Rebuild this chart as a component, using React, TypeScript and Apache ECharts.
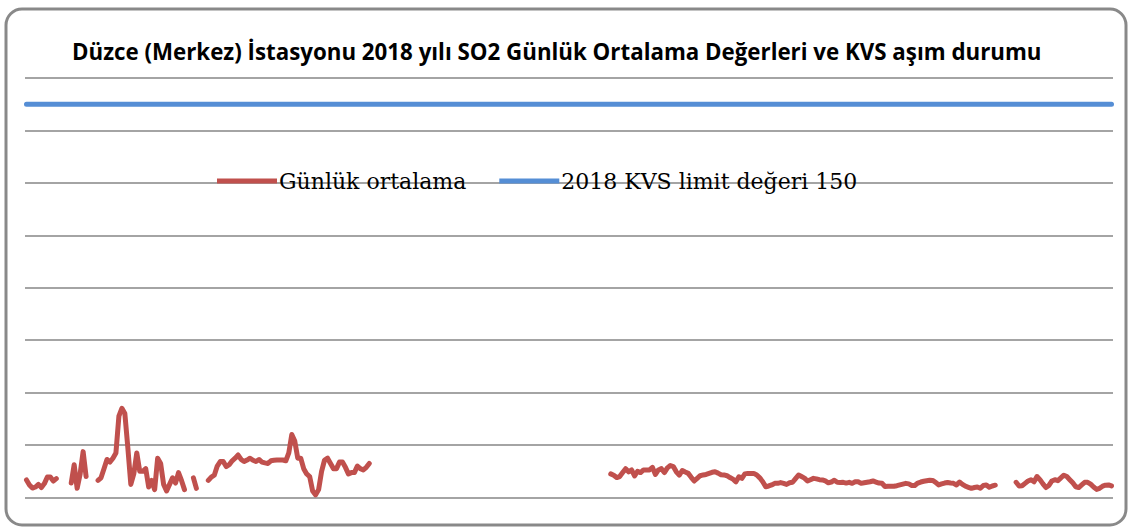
import React, { useEffect, useRef } from "react";
import * as echarts from "echarts";

const TITLE = "Düzce (Merkez) İstasyonu 2018 yılı SO2 Günlük Ortalama Değerleri ve KVS aşım durumu";
const SERIES_DAILY = "Günlük ortalama";
const SERIES_LIMIT = "2018 KVS limit değeri 150";
const DAYS_IN_YEAR = 365;
const LIMIT_VALUE = 150;

// Daily mean segments (start day index, values); days between segments have no data
const seg1Start = 0;
const seg1 = [6.7, 4.8, 3.6, 4, 5, 3.8, 5.3, 7.8, 7.8, 6.3, 7.2];
const seg2Start = 15;
const seg2 = [5.5, 12.5, 3.5, 9, 17.5, 8];
const seg3Start = 24;
const seg3 = [6.5, 7.5, 11, 14.5, 13.5, 15, 17, 31, 34, 32, 19, 5, 9, 17, 10, 10, 11, 4, 6.5, 3, 15, 13, 5, 2.5, 5, 7.5, 5.5, 9.5, 6.5, 3];
const seg4Start = 56;
const seg4 = [7.5, 3.5];
const seg5Start = 61;
const seg5 = [6.5, 7.8, 8.5, 12, 13.7, 13.7, 11.8, 12.5, 14, 15, 16.2, 14.5, 13.7, 14.3, 15, 14.2, 13.7, 14.5, 13.5, 13.2, 13, 14, 14.2, 14.3, 14.3, 14.3, 14, 17, 24, 21.5, 15, 15, 11, 9, 8, 2.5, 1, 3, 10, 14.3, 15, 13, 11, 11, 13.5, 13.5, 11.5, 9, 9.5, 9.5, 12, 11, 10.5, 11.5, 13];
const seg6Start = 196;
const seg6 = [9, 8.5, 7.6, 8, 9.5, 11, 9.8, 10.5, 8.2, 10, 9.5, 10.5, 10.5, 10.5, 11.5, 8.8, 10.5, 11, 9.5, 11.3, 12.2, 11.8, 9.8, 8.5, 10.3, 9.7, 9.2, 7.7, 6.3, 7.3, 8.3, 8.6, 8.8, 9.2, 9.6, 9.8, 9.3, 8.7, 8.6, 8.3, 7.6, 7, 6, 7.9, 7.3, 9, 9.2, 9.2, 9.2, 8.6, 7.5, 6, 4.1, 4.4, 4.8, 5.4, 5.4, 5.7, 5.4, 5, 5.6, 5.8, 7.2, 8.6, 8, 7.4, 6.3, 6.8, 7.3, 7.1, 6.8, 6.7, 6.3, 5.6, 5.9, 6.6, 5.8, 5.7, 5.8, 5.5, 5.8, 5.4, 6, 6];
const seg7Start = 280;
const seg7 = [5.4, 5.6, 5.8, 6, 6.3, 5.9, 5.5, 5.4, 4.2, 4.3, 4.3, 4.3, 4.5, 4.8, 5.1, 5.4, 5.2, 4.6, 4.6, 5.5, 5.9, 6.2, 6.4, 6.6, 6.5, 5.8, 4.8, 5.2, 5.5, 5.7, 5.5, 5.4, 4.8, 5.9, 5, 4.3, 3.9, 3.5, 3.8, 4, 3.5, 4.6, 4.8, 3.9, 4.4, 4.7];
const seg8Start = 332;
const seg8 = [5.8, 4.4, 4.5, 5.4, 6.3, 6.8, 6, 8, 6.8, 5.2, 3.8, 4.6, 6.3, 6.8, 6.4, 7.5, 8.5, 8, 6.8, 5.6, 4.1, 3.8, 4.8, 5.8, 5.8, 5.1, 4, 3.1, 3.5, 4.3, 4.7, 4.8, 4.4];

const segments: [number, number[]][] = [
  [seg1Start, seg1], [seg2Start, seg2], [seg3Start, seg3], [seg4Start, seg4],
  [seg5Start, seg5], [seg6Start, seg6], [seg7Start, seg7], [seg8Start, seg8],
];

export default function App() {
  const ref = useRef<HTMLDivElement>(null);
  useEffect(() => {
    if (!ref.current) return;
    const chart = echarts.init(ref.current, null, { renderer: "svg" });
    const days = Array.from({ length: DAYS_IN_YEAR }, (_, i) => String(i + 1));
    const daily: (number | null)[] = new Array(DAYS_IN_YEAR).fill(null);
    segments.forEach(([start, vals]) => vals.forEach((v, i) => { daily[start + i] = v; }));
    const limit = days.map(() => LIMIT_VALUE);
    chart.setOption({
      animation: false,
      backgroundColor: "#ffffff",
      title: {
        text: TITLE,
        left: 72,
        top: 40,
        padding: 0,
        textStyle: { fontFamily: "Open Sans", fontWeight: "bold", fontSize: 22.3, color: "#000" },
      },
      legend: {
        left: 217,
        top: 170,
        padding: 0,
        itemWidth: 60,
        itemHeight: 5,
        itemGap: 33,
        icon: "rect",
        textStyle: { fontFamily: "DejaVu Serif", fontSize: 22, color: "#000", padding: [0, 0, 0, -3] },
        data: [SERIES_DAILY, SERIES_LIMIT],
      },
      grid: { left: 25, right: 16, top: 78, bottom: 31.5 },
      xAxis: {
        type: "category",
        data: days,
        boundaryGap: true,
        axisLine: { show: false },
        axisTick: { show: false },
        axisLabel: { show: false },
      },
      yAxis: {
        type: "value",
        min: 0,
        max: 160,
        interval: 20,
        axisLabel: { show: false },
        axisLine: { show: false },
        axisTick: { show: false },
        splitLine: { lineStyle: { color: "#868686", width: 1.5 } },
      },
      series: [
        {
          name: SERIES_DAILY,
          type: "line",
          data: daily,
          showSymbol: false,
          symbol: "none",
          connectNulls: false,
          color: "#C0504D",
          lineStyle: { color: "#C0504D", width: 5, cap: "round", join: "round" },
        },
        {
          name: SERIES_LIMIT,
          type: "line",
          data: limit,
          showSymbol: false,
          symbol: "none",
          color: "#558ED5",
          lineStyle: { color: "#558ED5", width: 5, cap: "round" },
        },
      ],
      graphic: [
        {
          type: "rect",
          shape: { x: 6, y: 9, width: 1120, height: 516, r: 16 },
          style: { fill: "none", stroke: "#898989", lineWidth: 3 },
          silent: true,
        },
      ],
    });
    return () => chart.dispose();
  }, []);
  return (
    <div
      ref={ref}
      style={{ position: "fixed", left: 0, top: 0, width: 1129, height: 529, background: "#fff" }}
    />
  );
}
